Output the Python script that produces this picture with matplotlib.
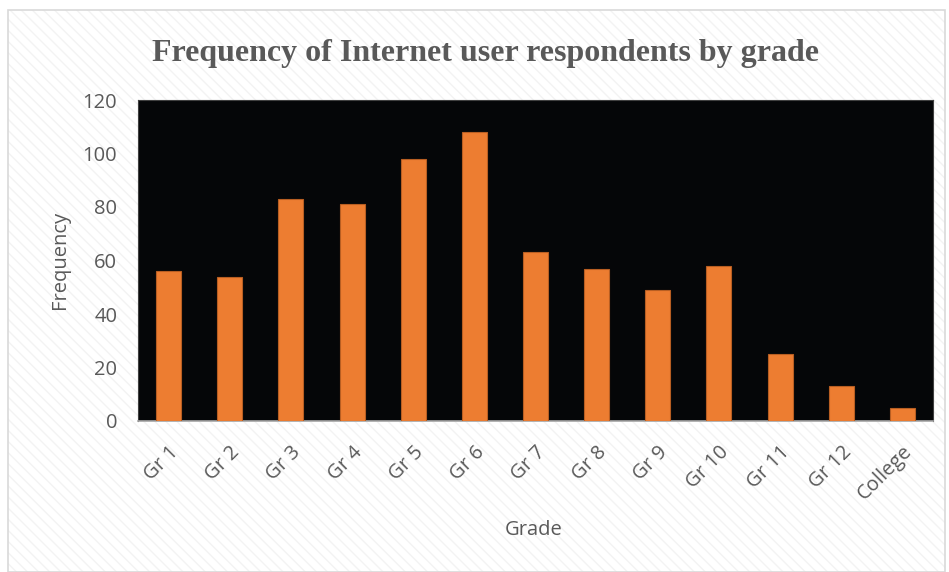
import matplotlib
matplotlib.use("Agg")
import matplotlib.pyplot as plt
from matplotlib.patches import Rectangle

grades = ["Gr 1", "Gr 2", "Gr 3", "Gr 4", "Gr 5", "Gr 6", "Gr 7",
          "Gr 8", "Gr 9", "Gr 10", "Gr 11", "Gr 12", "College"]
frequency = [56, 54, 83, 81, 98, 108, 63, 57, 49, 58, 25, 13, 5]
y_ticks = [0, 20, 40, 60, 80, 100, 120]

text_gray = "#595959"
bar_color = "#ED7D31"
label_size = 14.5

fig = plt.figure(figsize=(9.49, 5.72), dpi=100)
fig.patch.set_facecolor("white")

# Faint diagonal-striped chart-area background
area = (8 / 949, 0.0, 937 / 949, 1 - 10 / 572)
stripes = Rectangle(area[:2], area[2], area[3], transform=fig.transFigure,
                    facecolor="white", edgecolor="#f3f3f3", linewidth=0,
                    hatch="\\\\\\", zorder=-10)
fig.patches.append(stripes)
border = Rectangle(area[:2], area[2], area[3], transform=fig.transFigure,
                   facecolor="none", edgecolor="#d9d9d9", linewidth=1.2,
                   zorder=-9)
fig.patches.append(border)

ax = fig.add_axes([138 / 949, 1 - 421 / 572, 795 / 949, 321 / 572])
ax.set_facecolor("#050608")

x = range(len(grades))
ax.bar(x, frequency, width=0.41, color=bar_color, edgecolor="#b85e22",
       linewidth=0.8, zorder=3)

ax.set_xlim(-0.5, len(grades) - 0.5)
ax.set_ylim(0, 120)
ax.set_yticks(y_ticks)
ax.set_yticklabels([str(v) for v in y_ticks], fontsize=label_size,
                   color=text_gray, family="Open Sans")
ax.set_xticks(list(x))
ax.set_xticklabels(grades, rotation=45, ha="right", va="top",
                   rotation_mode="anchor", fontsize=label_size,
                   color=text_gray, family="Open Sans")
ax.tick_params(axis="both", length=0)
ax.tick_params(axis="y", pad=15)
ax.tick_params(axis="x", pad=15)

for side in ["left", "right", "top"]:
    ax.spines[side].set_color("#404040")
    ax.spines[side].set_linewidth(0.8)
ax.spines["bottom"].set_color("#a6a6a6")
ax.spines["bottom"].set_linewidth(1.2)

fig.text(60 / 949, 1 - 260 / 572, "Frequency", fontsize=label_size,
         color=text_gray, family="Open Sans", rotation=90,
         ha="center", va="center")
fig.text(534 / 949, 1 - 530 / 572, "Grade", fontsize=label_size,
         color=text_gray, family="Open Sans", ha="center", va="center")

fig.text(485 / 949, 1 - 53 / 572,
         "Frequency of Internet user respondents by grade",
         fontsize=23, fontweight="bold", color=text_gray,
         family="Liberation Serif", ha="center", va="center")

fig.savefig("out.png", dpi=100, facecolor="white")
